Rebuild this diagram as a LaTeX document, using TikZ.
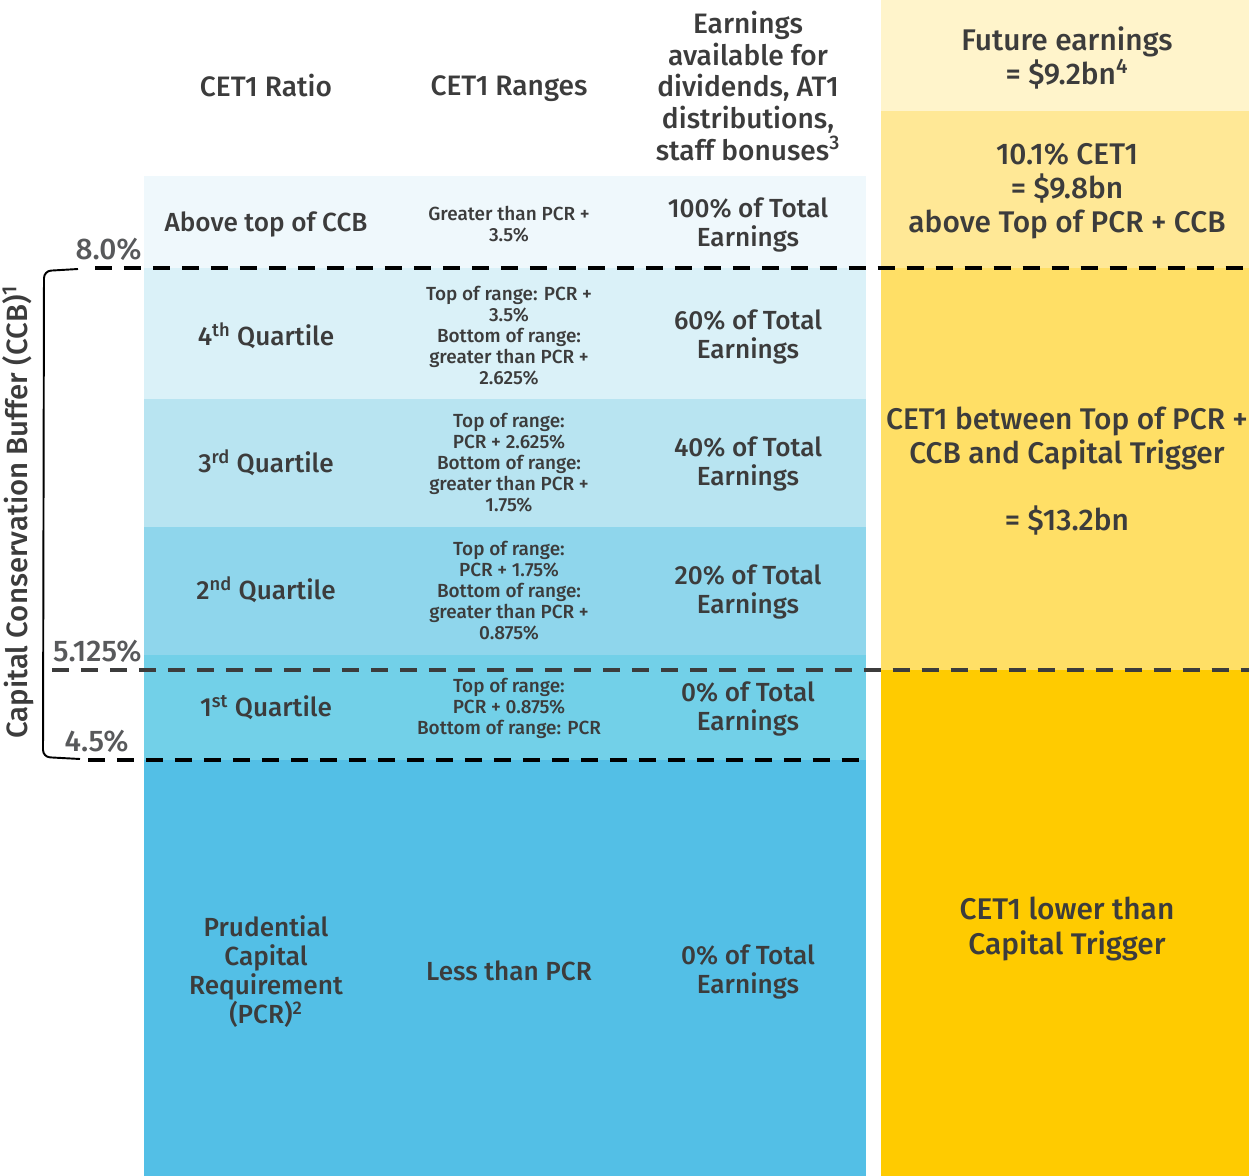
\documentclass[tikz,border=0pt]{standalone}
\usepackage{fontspec}
\setmainfont{Fira Sans}[UprightFont={* Medium}]
\usetikzlibrary{positioning}
\definecolor{ccbink}{HTML}{3C3C3C}
\definecolor{ccbgrey}{HTML}{58595B}
\definecolor{rowabove}{HTML}{EFF8FC}
\definecolor{rowfour}{HTML}{DAF1F8}
\definecolor{rowthree}{HTML}{B8E4F1}
\definecolor{rowtwo}{HTML}{8FD6EC}
\definecolor{rowone}{HTML}{72D0E8}
\definecolor{rowpcr}{HTML}{53BFE6}
\definecolor{ylfuture}{HTML}{FFF4CB}
\definecolor{ylabove}{HTML}{FFE896}
\definecolor{ylbetween}{HTML}{FFDF66}
\definecolor{yllower}{HTML}{FFCB00}

\begin{document}
\begin{tikzpicture}[x=0.02cm, y=-0.02cm,
      hdr/.style={align=center, text=ccbink, font=\fontsize{16}{18.2}\selectfont},
      cell/.style={align=center, text=ccbink, font=\fontsize{14.9}{16.5}\selectfont},
      rng/.style={align=center, text=ccbink, font=\fontsize{10.8}{12}\selectfont},
      side/.style={align=center, text=ccbink, font=\fontsize{17}{19.4}\selectfont},
      pct/.style={anchor=east, inner xsep=0pt, text=ccbgrey, font=\fontsize{17}{18}\selectfont},
      divider/.style={line width=2.3pt, dash pattern=on 9.7pt off 6.8pt}]
  \useasboundingbox (0,0) rectangle (1249,1176);
  % bands, left table
  \fill[rowabove] (144,176) rectangle (866,268);
  \fill[rowfour] (144,268) rectangle (866,399);
  \fill[rowthree] (144,399) rectangle (866,527);
  \fill[rowtwo] (144,527) rectangle (866,655);
  \fill[rowone] (144,655) rectangle (866,760);
  \fill[rowpcr] (144,760) rectangle (866,1176);
  % bands, right column
  \fill[ylfuture] (881,0) rectangle (1249,111);
  \fill[ylabove] (881,111) rectangle (1249,268);
  \fill[ylbetween] (881,268) rectangle (1249,670);
  \fill[yllower] (881,670) rectangle (1249,1176);

  % headers
  \node[hdr] (hratio) at (266,86) {CET1 Ratio};
  \node[hdr] (hrange) at (509,89) {CET1 Ranges};
  \node[hdr] (hearn) at (748,86) {Earnings\\available for\\dividends, AT1\\distributions,\\staff bonuses\textsuperscript{3}};

  % rows
  \node[cell] (ratioA) at (266,224) {Above top of CCB};
  \node[rng] (rangeA) at (509,224) {Greater than PCR +\\3.5\%};
  \node[cell] (earnA) at (748,225) {100\% of Total\\Earnings};

  \node[cell] (ratio4) at (266,336) {4\textsuperscript{th} Quartile};
  \node[rng] (range4) at (509,336) {Top of range: PCR +\\3.5\%\\Bottom of range:\\greater than PCR +\\2.625\%};
  \node[cell] (earn4) at (748,337) {60\% of Total\\Earnings};

  \node[cell] (ratio3) at (266,463) {3\textsuperscript{rd} Quartile};
  \node[rng] (range3) at (509,463) {Top of range:\\PCR + 2.625\%\\Bottom of range:\\greater than PCR +\\1.75\%};
  \node[cell] (earn3) at (748,464) {40\% of Total\\Earnings};

  \node[cell] (ratio2) at (266,590) {2\textsuperscript{nd} Quartile};
  \node[rng] (range2) at (509,591) {Top of range:\\PCR + 1.75\%\\Bottom of range:\\greater than PCR +\\0.875\%};
  \node[cell] (earn2) at (748,592) {20\% of Total\\Earnings};

  \node[cell] (ratio1) at (266,708) {1\textsuperscript{st} Quartile};
  \node[rng] (range1) at (509,708) {Top of range:\\PCR + 0.875\%\\Bottom of range: PCR};
  \node[cell] (earn1) at (748,709) {0\% of Total\\Earnings};

  \node[cell] (ratioP) at (266,972) {Prudential\\Capital\\Requirement\\(PCR)\textsuperscript{2}};
  \node[cell] (rangeP) at (509,971) {Less than PCR};
  \node[cell] (earnP) at (748,972) {0\% of Total\\Earnings};

  % right column
  \node[side] (future) at (1067,58) {Future earnings\\= \$9.2bn\textsuperscript{4}};
  \node[side] (above) at (1067,191) {10.1\% CET1\\= \$9.8bn\\above Top of PCR + CCB};
  \node[side] (between) at (1067,471) {CET1 between Top of PCR +\\CCB and Capital Trigger\\[19pt]= \$13.2bn};
  \node[side] (lower) at (1067,929) {CET1 lower than\\Capital Trigger};

  % ratio levels
  \node[pct] (lvl8) at (142,249) {8.0\%};
  \node[pct] (lvl5) at (142,651) {5.125\%};
  \node[pct] (lvl4) at (129,741) {4.5\%};
  \coordinate (d8L) at (95,268);   \coordinate (d8R) at (1249,268);
  \coordinate (d5L) at (52,670);   \coordinate (d5R) at (1249,670);
  \coordinate (d4L) at (88,760);   \coordinate (d4R) at (862,760);
  \draw[divider] (d8L) -- (d8R);
  \draw[divider, ccbink] (d5L) -- (d5R);
  \draw[divider] (d4L) -- (d4R);

  % CCB bracket
  \coordinate (brTop) at (78,269);
  \coordinate (brBot) at (80,759);
  \draw[line width=1.1pt, rounded corners=4pt] (brTop) -- (44,271) -- (43,757) -- (brBot);
  \node[rotate=90, text=ccbink, font=\fontsize{16.7}{18}\selectfont] (ccb) at (18,512) {Capital Conservation Buffer (CCB)\textsuperscript{1}};
\end{tikzpicture}
\end{document}
